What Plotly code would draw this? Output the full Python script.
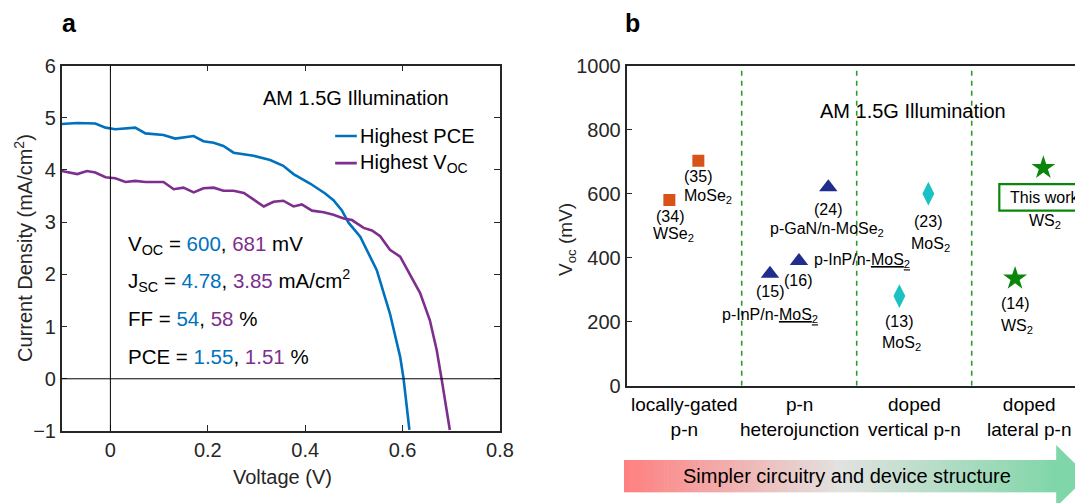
import plotly.graph_objects as go

W, H = 1075, 503

# ---------------- Panel a data (J-V curves) ----------------
v_pce = [-0.100, -0.068, -0.031, -0.010, 0.010, 0.051, 0.072, 0.109, 0.133, 0.171, 0.191,
         0.212, 0.232, 0.253, 0.294, 0.328, 0.355, 0.376, 0.410, 0.441, 0.458, 0.475,
         0.489, 0.513, 0.547, 0.574, 0.595, 0.602, 0.614]
j_pce = [4.88, 4.90, 4.89, 4.81, 4.78, 4.81, 4.70, 4.67, 4.60, 4.65, 4.55,
         4.52, 4.46, 4.33, 4.27, 4.19, 4.08, 3.92, 3.74, 3.55, 3.42, 3.23,
         2.99, 2.72, 2.08, 1.25, 0.42, 0.00, -0.98]

v_voc = [-0.100, -0.068, -0.048, -0.031, -0.010, 0.010, 0.031, 0.051, 0.072, 0.109, 0.130,
         0.150, 0.171, 0.191, 0.212, 0.232, 0.253, 0.274, 0.315, 0.335, 0.355, 0.376,
         0.393, 0.414, 0.438, 0.458, 0.479, 0.496, 0.520, 0.537, 0.554, 0.574, 0.595,
         0.615, 0.636, 0.656, 0.670, 0.680, 0.697]
j_voc = [3.98, 3.92, 3.98, 3.95, 3.86, 3.84, 3.77, 3.79, 3.77, 3.77, 3.63,
         3.66, 3.57, 3.65, 3.66, 3.60, 3.60, 3.56, 3.30, 3.39, 3.41, 3.30,
         3.34, 3.22, 3.19, 3.14, 3.07, 3.04, 2.89, 2.84, 2.73, 2.47, 2.34,
         1.99, 1.64, 1.12, 0.55, 0.00, -0.98]

series_names = ["Highest PCE", "Highest V<sub>OC</sub>"]
voc_vals = ["600", "681"]
jsc_vals = ["4.78", "3.85"]
ff_vals = ["54", "58"]
pce_vals = ["1.55", "1.51"]

a_xticks = [0, 0.2, 0.4, 0.6, 0.8]
a_xticktext = ["0", "0.2", "0.4", "0.6", "0.8"]
a_yticks = [-1, 0, 1, 2, 3, 4, 5, 6]

# ---------------- Panel b data (Voc comparison) ----------------
group_names = ["locally-gated<br>p-n", "p-n<br>heterojunction",
               "doped<br>vertical p-n", "doped<br>lateral p-n"]
sq_x = [0.371, 0.623]
sq_voc = [580, 703]
tri_x = [1.246, 1.498, 1.753]
tri_voc = [350, 390, 620]
dia_x = [2.371, 2.623]
dia_voc = [280, 600]
star_x = [3.377, 3.623]
star_voc = [335, 681]
b_yticks = [0, 200, 400, 600, 800, 1000]

BLUE = "#0072BD"
PURPLE = "#7E2F8E"
AX = "#262626"
FONT = "Arial, Liberation Sans, Helvetica, sans-serif"
FS = 20  # main font size

B_X0 = 626.7   # left edge of panel b plot, px
B_STEP = 115.0  # width of one category, px


def pxx(x):
    return x / W


def pxy(y):
    return 1 - y / H


fig = go.Figure()

fig.add_trace(go.Scatter(x=v_pce, y=j_pce, mode="lines", line=dict(color=BLUE, width=2.6),
                         xaxis="x", yaxis="y", showlegend=False, name="Highest PCE"))
fig.add_trace(go.Scatter(x=v_voc, y=j_voc, mode="lines", line=dict(color=PURPLE, width=2.6),
                         xaxis="x", yaxis="y", showlegend=False, name="Highest VOC"))

fig.add_trace(go.Scatter(x=sq_x, y=sq_voc, mode="markers", xaxis="x2", yaxis="y2",
                         marker=dict(symbol="square", size=12, color="#D95319"), showlegend=False))
fig.add_trace(go.Scatter(x=tri_x, y=tri_voc, mode="markers", xaxis="x2", yaxis="y2",
                         marker=dict(symbol="triangle-up", size=16, color="#1F2D8C"), showlegend=False))
fig.add_trace(go.Scatter(x=dia_x, y=dia_voc, mode="markers", xaxis="x2", yaxis="y2",
                         marker=dict(symbol="diamond-tall", size=17, color="#1AC2C2"), showlegend=False))
fig.add_trace(go.Scatter(x=star_x, y=star_voc, mode="markers", xaxis="x2", yaxis="y2",
                         marker=dict(symbol="star", size=18, color="#0A870A"), showlegend=False))

shapes = []
ann = []


def A(**kw):
    kw.setdefault("showarrow", False)
    kw.setdefault("xanchor", "center")
    kw.setdefault("yanchor", "middle")
    ann.append(kw)


# panel a reference lines
shapes.append(dict(type="line", xref="x", yref="y", x0=0, x1=0, y0=-1, y1=6,
                   line=dict(color="black", width=1)))
shapes.append(dict(type="line", xref="x", yref="y", x0=-0.1, x1=0.8, y0=0, y1=0,
                   line=dict(color="black", width=1)))

# panel a legend (manual)
leg_y = [4.65, 4.13]
for name, col, yy in zip(series_names, [BLUE, PURPLE], leg_y):
    shapes.append(dict(type="line", xref="x", yref="y", x0=0.4615, x1=0.506, y0=yy, y1=yy,
                       line=dict(color=col, width=2.6)))
    A(x=0.509, y=yy, xref="x", yref="y", text=name, xanchor="left",
      font=dict(size=FS, color="black"))

A(x=0.505, y=5.38, xref="x", yref="y", text="AM 1.5G Illumination",
  font=dict(size=FS, color="black"))


def two(a, b):
    return (f"<span style='color:{BLUE}'>{a}</span>, "
            f"<span style='color:{PURPLE}'>{b}</span>")


stats = [
    ("V<sub>OC</sub> = " + two(*voc_vals) + " mV", 2.56),
    ("J<sub>SC</sub> = " + two(*jsc_vals) + " mA/cm<sup>2</sup>", 1.89),
    ("FF = " + two(*ff_vals) + " %", 1.16),
    ("PCE = " + two(*pce_vals) + " %", 0.42),
]
for txt, yy in stats:
    A(x=0.031, y=yy, xref="x", yref="y", text=txt, xanchor="left",
      font=dict(size=20.5, color="black"))

# axis titles panel a
A(x=pxx(282), y=pxy(477), xref="paper", yref="paper", text="Voltage (V)",
  font=dict(size=FS, color=AX))
A(x=pxx(23), y=pxy(248), xref="paper", yref="paper",
  text="Current Density (mA/cm<sup>2</sup>)", textangle=-90,
  font=dict(size=FS, color=AX))

# panel labels
A(x=pxx(69), y=pxy(23), xref="paper", yref="paper", text="<b>a</b>",
  font=dict(size=25, color="black"))
A(x=pxx(632), y=pxy(23), xref="paper", yref="paper", text="<b>b</b>",
  font=dict(size=25, color="black"))

# ---------------- panel b decorations ----------------
for xd in [1, 2, 3]:
    shapes.append(dict(type="line", xref="x2", yref="y2", x0=xd, x1=xd, y0=0, y1=1000,
                       line=dict(color="#2E9A2E", width=1.6, dash="5px,5px")))

A(x=2.492, y=859, xref="x2", yref="y2", text="AM 1.5G Illumination",
  font=dict(size=FS, color="black"))

UND = "<span style='text-decoration:underline'>MoS<sub>2</sub></span>"
b_labels = [
    ("(35)", 0.617, 653, "center"),
    ("MoSe<sub>2</sub>", 0.704, 591, "center"),
    ("(34)", 0.377, 528, "center"),
    ("WSe<sub>2</sub>", 0.403, 471, "center"),
    ("(24)", 1.748, 551, "center"),
    ("p-GaN/n-MoSe<sub>2</sub>", 1.746, 487, "center"),
    ("(23)", 2.623, 512, "center"),
    ("MoS<sub>2</sub>", 2.643, 440, "center"),
    ("WS<sub>2</sub>", 3.637, 512, "center"),
    ("(16)", 1.492, 330, "center"),
    ("p-InP/n-" + UND, 1.614, 391, "left"),
    ("(15)", 1.246, 294, "center"),
    ("p-InP/n-" + UND, 1.250, 218, "center"),
    ("(13)", 2.368, 202, "center"),
    ("MoS<sub>2</sub>", 2.391, 132, "center"),
    ("(14)", 3.377, 257, "center"),
    ("WS<sub>2</sub>", 3.394, 184, "center"),
]
for txt, xx, yy, anc in b_labels:
    A(x=xx, y=yy, xref="x2", yref="y2", text=txt, xanchor=anc,
      font=dict(size=16, color="black"))

# "This work" box
shapes.append(dict(type="rect", xref="x2", yref="y2", x0=3.24, x1=4.6, y0=547, y1=630,
                   line=dict(color="#0A870A", width=2.2), fillcolor="rgba(0,0,0,0)"))
A(x=3.316, y=589, xref="x2", yref="y2", text="This work", xanchor="left",
  font=dict(size=16, color="black"))

# category labels (below the axis, in paper coordinates)
for i, g in enumerate(group_names):
    A(x=pxx(B_X0 + B_STEP * (i + 0.5)), y=pxy(416.5), xref="paper", yref="paper",
      text=g, font=dict(size=19, color="black"))

# y title panel b
A(x=pxx(567), y=pxy(240), xref="paper", yref="paper",
  text="V<sub>oc</sub> (mV)", textangle=-90, font=dict(size=19, color=AX))


# gradient arrow
def lerp(c1, c2, t):
    return tuple(round(a + (b - a) * t) for a, b in zip(c1, c2))


c_left = (255, 127, 127)
c_mid = (226, 226, 224)
c_right = (127, 214, 168)
x_start, x_end = 624.0, 1056.7
y_top, y_bot = 460.0, 492.3
N = 140
for k in range(N):
    t = (k + 0.5) / N
    col = lerp(c_left, c_mid, t / 0.5) if t < 0.5 else lerp(c_mid, c_right, (t - 0.5) / 0.5)
    x0 = x_start + (x_end - x_start) * k / N
    x1 = x_start + (x_end - x_start) * (k + 1) / N + 0.6
    shapes.append(dict(type="rect", xref="paper", yref="paper",
                       x0=pxx(x0), x1=pxx(x1), y0=pxy(y_bot), y1=pxy(y_top),
                       line=dict(width=0), fillcolor="rgb(%d,%d,%d)" % col, layer="below"))
# arrow head
hx0, hy_top, hy_bot, tip = 1056.2, 445.0, 507.0, 1087.7
shapes.append(dict(type="path", xref="paper", yref="paper",
                   path=f"M {pxx(hx0)} {pxy(hy_top)} L {pxx(tip)} {pxy(476)} L {pxx(hx0)} {pxy(hy_bot)} Z",
                   line=dict(width=0), fillcolor="rgb(%d,%d,%d)" % c_right, layer="below"))
A(x=pxx(846.7), y=pxy(476), xref="paper", yref="paper",
  text="Simpler circuitry and device structure", font=dict(size=FS, color="black"))

fig.update_layout(
    width=W, height=H, autosize=False,
    margin=dict(l=0, r=0, t=0, b=0, pad=0, autoexpand=False),
    paper_bgcolor="white", plot_bgcolor="white",
    font=dict(family=FONT, size=FS, color=AX),
    showlegend=False,
    xaxis=dict(domain=[pxx(61.7), pxx(500)], range=[-0.1, 0.8], anchor="y",
               tickvals=a_xticks, ticktext=a_xticktext, ticks="inside", ticklen=6,
               tickcolor=AX, showline=True, linecolor=AX, linewidth=1.5, mirror="ticks",
               showgrid=False, zeroline=False, tickfont=dict(size=FS, color=AX)),
    yaxis=dict(domain=[pxy(431), pxy(65.5)], range=[-1, 6], anchor="x",
               tickvals=a_yticks, ticks="inside", ticklen=6, tickcolor=AX,
               showline=True, linecolor=AX, linewidth=1.5, mirror="ticks",
               showgrid=False, zeroline=False, tickfont=dict(size=FS, color=AX)),
    xaxis2=dict(domain=[pxx(B_X0), 1.0], range=[0, (W - B_X0) / B_STEP], anchor="y2",
                showticklabels=False, ticks="", showline=True, linecolor=AX, linewidth=2,
                mirror=True, showgrid=False, zeroline=False),
    yaxis2=dict(domain=[pxy(385.7), pxy(65.7)], range=[0, 1000], anchor="x2",
                tickvals=b_yticks, ticks="inside", ticklen=5, tickcolor=AX,
                showline=True, linecolor=AX, linewidth=2, mirror=False,
                showgrid=False, zeroline=False, tickfont=dict(size=FS, color=AX)),
    shapes=shapes,
    annotations=ann,
)

fig.write_html("out.html")
